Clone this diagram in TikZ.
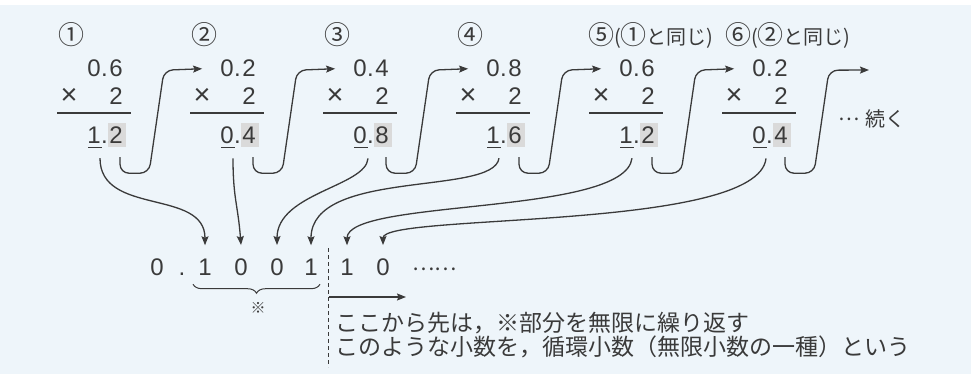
\documentclass[tikz,border=0pt]{standalone}
\usepackage{fontspec}
\setmainfont{Liberation Sans}
\newfontfamily\jp{Noto Sans CJK JP}
\usetikzlibrary{arrows.meta,decorations.pathreplacing}
\definecolor{ink}{HTML}{3A3A3A}
\definecolor{bgblue}{HTML}{EEF5FA}
\definecolor{hl}{HTML}{DADADA}
\newcommand\circnum[1]{{\fontsize{26}{26}\selectfont #1}}
\begin{document}
\begin{tikzpicture}[x=1pt,y=-1pt,
  every node/.style={inner sep=0pt, text=ink},
  dig/.style={font=\fontsize{24}{24}\selectfont, anchor=base},
  lab/.style={font=\jp\fontsize{20}{20}\selectfont, anchor=west},
  jtext/.style={font=\jp\fontsize{23}{23}\selectfont, anchor=west},
  conn/.style={draw=ink, line width=1.3pt, -{Stealth[length=9pt,width=7pt,inset=1.5pt]}},
  jarrow/.style={conn, rounded corners=9pt},
  hlbox/.style={fill=hl, draw=none, minimum width=18pt, minimum height=24pt},
  rulel/.style={draw=ink, line width=1.1pt},
  uline/.style={draw=ink, line width=1pt},
]
\fill[bgblue] (0,0) rectangle (971,374);
\fill[white] (0,0) rectangle (971,5);
\useasboundingbox (0,0) rectangle (971,374);

% columns
\foreach \i/\a/\b/\c/\d in {1/0/6/1/2, 2/0/2/0/4, 3/0/4/0/8, 4/0/8/1/6, 5/0/6/1/2, 6/0/2/0/4}{
  \pgfmathsetmacro\xc{107+133*(\i-1)}
  \node[hlbox] (g\i) at (\xc+10,135) {};
  \node[dig] (ta\i) at (\xc-13,77) {\a};
  \node[dig] (tp\i) at (\xc-2.5,77) {.};
  \node[dig] (tb\i) at (\xc+9,77) {\b};
  \node[dig, font=\fontsize{29}{29}\selectfont] (mx\i) at (\xc-38,105) {×};
  \node[dig] (mt\i) at (\xc+9,105) {2};
  \draw[rulel] (\xc-50,113) coordinate (rl\i) -- (\xc+24,113) coordinate (rr\i);
  \node[dig] (ra\i) at (\xc-13,144) {\c};
  \node[dig] (rp\i) at (\xc-2.5,144) {.};
  \node[dig] (rb\i) at (\xc+9,144) {\d};
  \draw[uline] ([xshift=-6pt,yshift=-3pt]ra\i.south) coordinate (ul\i) -- ([xshift=8pt,yshift=-3pt]ra\i.south) coordinate (ur\i);
}

% step labels
\node[lab] (l1) at (58,35) {\circnum{①}};
\node[lab] (l2) at (191,35) {\circnum{②}};
\node[lab] (l3) at (324,35) {\circnum{③}};
\node[lab] (l4) at (457,35) {\circnum{④}};
\node[lab] (l5) at (588,35) {\circnum{⑤}(\circnum{①}と同じ)};
\node[lab] (l6) at (725,35) {\circnum{⑥}(\circnum{②}と同じ)};

% J-shaped arrows to next column
\foreach \i/\j in {1/2,2/3,3/4,4/5,5/6}{
  \draw[jarrow] ([xshift=3pt,yshift=-10pt]g\i.south) -- ++(0,16) -- ++(29,0) -- ++(15,-103) -- ([xshift=-18pt]ta\j.west);
}
\coordinate (contend) at (869,70);
\draw[jarrow] ([xshift=3pt,yshift=-10pt]g6.south) -- ++(0,16) -- ++(29,0) -- ++(15,-103) -- (contend);
\node[jtext, font=\jp\fontsize{20}{20}\selectfont] (cont) at (838,119) {\raisebox{0.3em}{…}\hspace{6pt}続く};

% resulting binary fraction
\node[dig] (b0) at (157,275) {0};
\node[dig] (bd) at (182,275) {.};
\node[dig] (b1) at (205,275) {1};
\node[dig] (b2) at (241,275) {0};
\node[dig] (b3) at (277,275) {0};
\node[dig] (b4) at (311,275) {1};
\node[dig] (b5) at (347,275) {1};
\node[dig] (b6) at (383,275) {0};
\node[dig, anchor=base west, font=\jp\fontsize{21}{21}\selectfont] (bdots) at (412,275) {\raisebox{0.2em}{……}};

% connectors from integer parts to binary digits
\draw[conn] ([xshift=6pt,yshift=-14pt]ra1.south) .. controls +(0,58) and +(0,-57) .. ([yshift=13pt]b1.north);
\draw[conn] ([xshift=6pt,yshift=-14pt]ra2.south) .. controls +(0,40) and +(-3,-40) .. ([yshift=13pt]b2.north);
\draw[conn] ([xshift=8pt,yshift=-14pt]ra3.south) .. controls +(-2,28) and +(0,-52) .. ([yshift=13pt]b3.north);
\draw[conn] ([xshift=6pt,yshift=-14pt]ra4.south) .. controls +(-5,38) and +(0,-77) .. ([yshift=13pt]b4.north);
\draw[conn] ([xshift=6pt,yshift=-14pt]ra5.south) .. controls +(-7,58) and +(0,-47) .. ([yshift=13pt]b5.north);
\draw[conn] ([xshift=7pt,yshift=-14pt]ra6.south) .. controls +(-8,73) and +(0,-32) .. ([yshift=13pt]b6.north);

% brace and mark
\draw[draw=ink, line width=1pt, decorate, decoration={brace, mirror, amplitude=9pt}]
  ([xshift=-12pt,yshift=-9pt]b1.south) -- ([xshift=9pt,yshift=-9pt]b4.south);
\node[font=\jp\fontsize{15}{15}\selectfont] (mark) at (258,308) {※};

% dashed separator and arrow
\coordinate (dtop) at (328,248);
\coordinate (dbot) at (328,367);
\draw[draw=ink, line width=1pt, dash pattern=on 4pt off 3pt] (dtop) -- (dbot);
\coordinate (dmid) at (329,297);
\coordinate (darr) at (406,297);
\draw[conn, line width=1.1pt] (dmid) -- (darr);

% explanation
\node[jtext] (t1) at (335,323) {ここから先は，※部分を無限に繰り返す};
\node[jtext] (t2) at (335,347) {このような小数を，循環小数（無限小数の一種）という};
\end{tikzpicture}
\end{document}
